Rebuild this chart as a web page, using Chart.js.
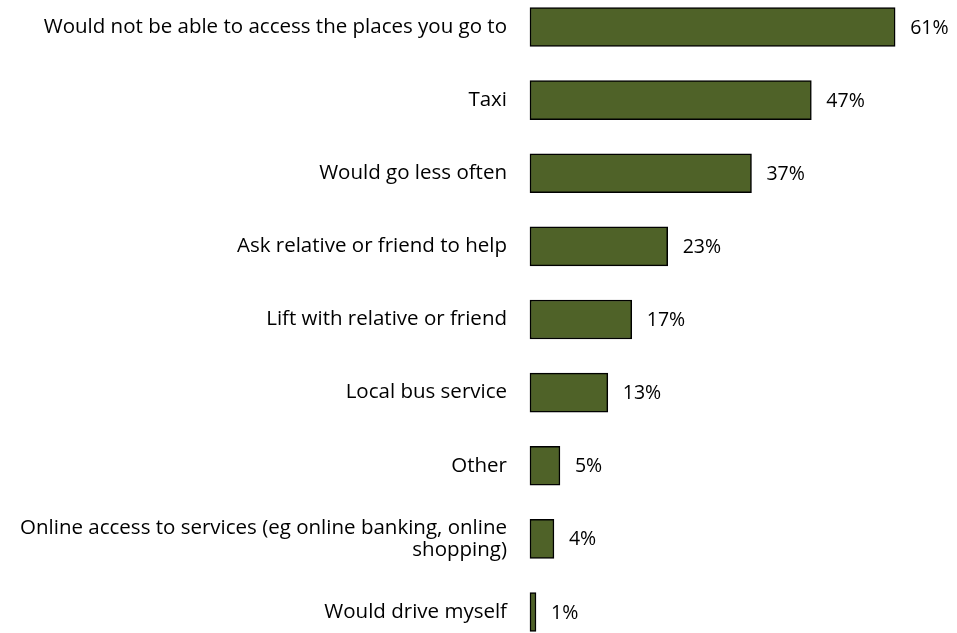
<!DOCTYPE html>
<html>
<head>
<meta charset="utf-8">
<script src="https://cdn.jsdelivr.net/npm/chart.js@4.4.1/dist/chart.umd.min.js"></script>
<style>
  html, body { margin: 0; padding: 0; background: #ffffff; }
  #wrap { width: 957px; height: 633px; position: relative; }
</style>
</head>
<body>
<div id="wrap"><canvas id="c" width="957" height="633"></canvas></div>
<script>
const categories = [
  "Would not be able to access the places you go to",
  "Taxi",
  "Would go less often",
  "Ask relative or friend to help",
  "Lift with relative or friend",
  "Local bus service",
  "Other",
  ["Online access to services (eg online banking, online", "shopping)"],
  "Would drive myself"
];
const values = [61, 47, 37, 23, 17, 13, 5, 4, 1];
const valueLabels = ["61%", "47%", "37%", "23%", "17%", "13%", "5%", "4%", "1%"];

const FONT = "'Open Sans', Lato, sans-serif";
const LABEL_SIZE = 20.5;
const VALUE_SIZE = 19.5;

const valueLabelPlugin = {
  id: 'valueLabels',
  afterDatasetsDraw(chart) {
    const ctx = chart.ctx;
    const meta = chart.getDatasetMeta(0);
    ctx.save();
    ctx.font = VALUE_SIZE + "px " + FONT;
    ctx.fillStyle = "#000000";
    ctx.textAlign = "left";
    ctx.textBaseline = "middle";
    meta.data.forEach((bar, i) => {
      ctx.fillText(valueLabels[i], bar.x + 15, bar.y + 1);
    });
    ctx.restore();
  }
};

new Chart(document.getElementById('c'), {
  type: 'bar',
  data: {
    labels: categories,
    datasets: [{
      data: values,
      backgroundColor: '#4F6228',
      borderColor: '#000000',
      borderWidth: 1.5,
      borderSkipped: false,
      barThickness: 39,
      clip: false
    }]
  },
  options: {
    indexAxis: 'y',
    responsive: false,
    animation: false,
    events: [],
    layout: { padding: { top: 27, bottom: 21, left: 0, right: 8 } },
    plugins: {
      legend: { display: false },
      tooltip: { enabled: false },
      title: { display: false }
    },
    scales: {
      x: {
        display: false,
        min: 0,
        max: 70
      },
      y: {
        offset: false,
        border: { display: false },
        grid: { display: false, drawTicks: false },
        ticks: {
          color: '#000000',
          font: { family: FONT, size: LABEL_SIZE, lineHeight: 1.08 },
          padding: 23,
          autoSkip: false
        },
        afterFit(scale) {
          scale.width = 530;
          scale.paddingTop = 0;
          scale.paddingBottom = 0;
        }
      }
    }
  },
  plugins: [valueLabelPlugin]
});
</script>
</body>
</html>
